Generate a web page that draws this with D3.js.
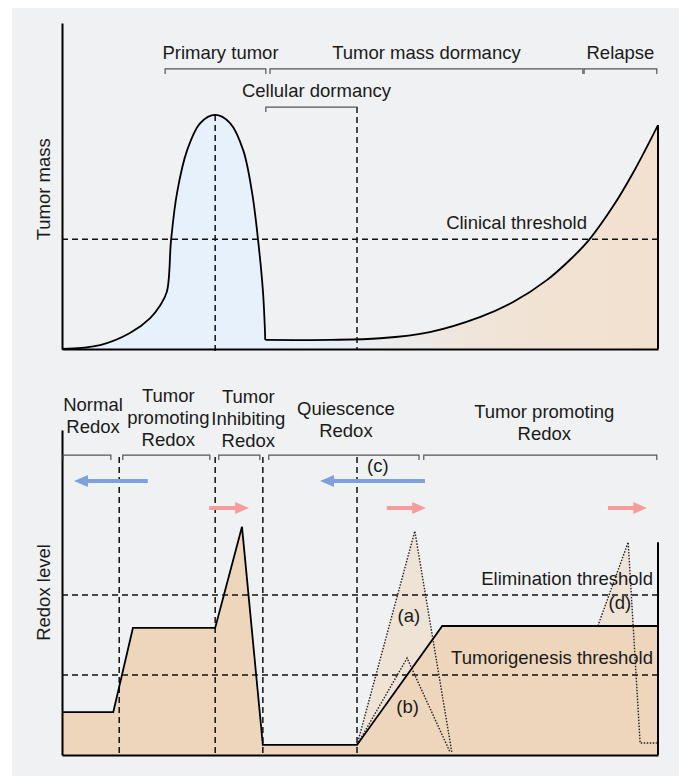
<!DOCTYPE html>
<html>
  <head>
    <meta charset="utf-8">
    <script src="https://d3js.org/d3.v7.min.js"></script>
    <style>
      body { margin: 0; background: #fff; }
      text { font-family: "Liberation Sans", Arial, sans-serif; fill: #1a1a1a; }
    </style>
  </head>
  <body>
    <div id="chart"></div>
    <script>
      // ---- data (x: time 0-100, y: level 0-100) ----
      const primaryTumor = [[0, 0], [6.4, 1.2], [11.4, 4.9], [14.8, 9.5], [16.4, 13.2], [17.6, 17.6],
        [18.3, 33.4], [19.3, 47.9], [21.0, 61.0], [23.2, 69.3], [25.7, 71.8], [28.2, 69.3], [30.4, 61.0],
        [31.9, 47.9], [32.9, 33.4], [33.7, 18.1], [34.0, 8.0], [34.1, 2.8]];
      const dormancyRelapse = [[34.1, 2.8], [45.0, 2.8], [53.4, 3.3], [61.7, 5.2], [70.1, 9.8], [75.7, 14.4],
        [81.4, 21.2], [85.2, 27.3], [88.4, 33.4], [92.4, 43.6], [95.8, 54.0], [100, 68.7]];
      const clinicalThreshold = 33.7;
      const topPhaseNames = ["Primary tumor", "Tumor mass dormancy", "Relapse", "Cellular dormancy"];
      const topPhaseStart = [17.3, 34.9, 87.6, 34.2];
      const topPhaseEnd = [34.2, 87.4, 99.8, 49.5];
      const topPhaseLevel = [85.9, 85.9, 85.9, 74.2];

      const redoxLevel = [[0, 13.2], [8.6, 13.2], [11.9, 39.1], [25.7, 39.1], [30.2, 70.2], [33.7, 3.1],
        [49.5, 3.1], [63.8, 39.7], [100, 39.7]];
      const spikeA = [[49.5, 3.1], [59.2, 68.9], [65.4, 0.9]];
      const spikeB = [[49.5, 3.1], [57.9, 29.8], [65.1, 0.9]];
      const spikeD = [[89.9, 39.7], [95.0, 65.5], [97.0, 3.7], [99.8, 3.7]];
      const eliminationThreshold = 49.2;
      const tumorigenesisThreshold = 24.6;
      const redoxBoundaries = [9.6, 25.7, 33.7, 49.5];
      const redoxPhaseNames = [["Normal", "Redox"], ["Tumor", "promoting", "Redox"], ["Tumor", "Inhibiting", "Redox"],
        ["Quiescence", "Redox"], ["Tumor promoting", "Redox"]];
      const redoxPhaseStart = [0.2, 10.2, 26.3, 34.7, 60.7];
      const redoxPhaseEnd = [8.2, 24.8, 33.2, 59.9, 99.8];
      const decreaseArrows = [[14.4, 2.0], [60.9, 43.3]];
      const increaseArrows = [[24.7, 31.4], [54.5, 61.1], [91.6, 98.2]];
      const spikeLabels = ["(a)", "(b)", "(c)", "(d)"];
      const spikeLabelPos = [[58.2, 41], [58.0, 13], [53.0, 87], [93.6, 45]];

      // ---- layout ----
      const width = 679, height = 776;
      const fontSize = 18.5;
      const svg = d3.select('#chart').append('svg')
        .attr('width', width).attr('height', height);

      svg.append('rect').attr('width', width).attr('height', height).attr('fill', '#ffffff');
      svg.append('rect').attr('x', 12).attr('y', 8).attr('width', width - 12).attr('height', height - 8)
        .attr('fill', '#f0f1f3');

      const x = d3.scaleLinear().domain([0, 100]).range([62, 658]);
      const yTop = d3.scaleLinear().domain([0, 100]).range([349, 23]);
      const yBot = d3.scaleLinear().domain([0, 100]).range([755, 430]);

      const defs = svg.append('defs');
      const grad = defs.append('linearGradient').attr('id', 'relapseFill')
        .attr('gradientUnits', 'userSpaceOnUse')
        .attr('x1', x(34.1)).attr('x2', x(100)).attr('y1', 0).attr('y2', 0);
      [[0, '#e7f1fc'], [0.25, '#eaeef3'], [0.5, '#efe6dc'], [0.75, '#f2e2d1'], [1, '#f2e1cf']].forEach(s => {
        grad.append('stop').attr('offset', s[0]).attr('stop-color', s[1]);
      });

      function arrowMarker(id, color) {
        defs.append('marker')
          .attr('id', id)
          .attr('markerUnits', 'userSpaceOnUse')
          .attr('markerWidth', 14).attr('markerHeight', 12)
          .attr('refX', 2).attr('refY', 6)
          .attr('orient', 'auto')
          .append('path').attr('d', 'M0,0 L14,6 L0,12 Z').attr('fill', color);
      }
      arrowMarker('headBlue', '#7fa0dc');
      arrowMarker('headPink', '#f79c9c');

      const dash = '6,4';

      // ================= top panel =================
      const topPanel = svg.append('g');
      const curve = d3.curveCatmullRom.alpha(0.5);

      const areaTop = d3.area().x(d => x(d[0])).y0(yTop(0)).y1(d => yTop(d[1])).curve(curve);
      const lineTop = d3.line().x(d => x(d[0])).y(d => yTop(d[1])).curve(curve);

      topPanel.append('path').datum(primaryTumor).attr('d', areaTop).attr('fill', '#e7f1fc');
      topPanel.append('path').datum(dormancyRelapse).attr('d', areaTop).attr('fill', 'url(#relapseFill)');

      topPanel.append('line')
        .attr('x1', x(0)).attr('x2', x(100))
        .attr('y1', yTop(clinicalThreshold)).attr('y2', yTop(clinicalThreshold))
        .attr('stroke', '#111').attr('stroke-width', 1.5).attr('stroke-dasharray', dash);

      topPanel.append('line')
        .attr('x1', x(25.7)).attr('x2', x(25.7))
        .attr('y1', yTop(71.8)).attr('y2', yTop(-1.3))
        .attr('stroke', '#111').attr('stroke-width', 1.5).attr('stroke-dasharray', dash);
      topPanel.append('line')
        .attr('x1', x(49.5)).attr('x2', x(49.5))
        .attr('y1', yTop(74.2)).attr('y2', yTop(0))
        .attr('stroke', '#111').attr('stroke-width', 1.5).attr('stroke-dasharray', dash);

      topPanel.append('path').datum(primaryTumor).attr('d', lineTop)
        .attr('fill', 'none').attr('stroke', '#000').attr('stroke-width', 1.8);
      topPanel.append('path').datum(dormancyRelapse).attr('d', lineTop)
        .attr('fill', 'none').attr('stroke', '#000').attr('stroke-width', 1.8);
      topPanel.append('line')
        .attr('x1', x(100)).attr('x2', x(100))
        .attr('y1', yTop(68.7)).attr('y2', yTop(0))
        .attr('stroke', '#000').attr('stroke-width', 2);

      topPanel.append('g').attr('transform', `translate(0,${yTop(0)})`)
        .call(d3.axisBottom(x).tickValues([]).tickSizeOuter(0))
        .select('.domain').attr('stroke', '#000').attr('stroke-width', 2);
      topPanel.append('g').attr('transform', `translate(${x(0)},0)`)
        .call(d3.axisLeft(yTop).tickValues([]).tickSizeOuter(0))
        .select('.domain').attr('stroke', '#000').attr('stroke-width', 2);

      const topLabelShift = [5, 0, 0, 5];
      topPhaseNames.forEach((name, i) => {
        const y0 = yTop(topPhaseLevel[i]);
        topPanel.append('path')
          .attr('d', `M${x(topPhaseStart[i])},${y0 + 5}V${y0}H${x(topPhaseEnd[i])}V${y0 + 5}`)
          .attr('fill', 'none').attr('stroke', '#555').attr('stroke-width', 1.2);
        topPanel.append('text')
          .attr('x', (x(topPhaseStart[i]) + x(topPhaseEnd[i])) / 2 + topLabelShift[i])
          .attr('y', y0 - 10)
          .attr('text-anchor', 'middle').attr('font-size', fontSize)
          .text(name);
      });

      topPanel.append('text')
        .attr('x', 587).attr('y', yTop(clinicalThreshold) - 10)
        .attr('text-anchor', 'end').attr('font-size', fontSize)
        .text('Clinical threshold');

      topPanel.append('text')
        .attr('transform', `translate(50,${yTop(49)}) rotate(-90)`)
        .attr('text-anchor', 'middle').attr('font-size', fontSize)
        .text('Tumor mass');

      // ================= bottom panel =================
      const bot = svg.append('g');
      const areaBot = d3.area().x(d => x(d[0])).y0(yBot(0)).y1(d => yBot(d[1]));
      const lineBot = d3.line().x(d => x(d[0])).y(d => yBot(d[1]));

      // light fills of the spikes, drawn under the main area
      [spikeA, spikeD.slice(0, 3)].forEach(s => {
        bot.append('path').attr('d', lineBot(s) + 'Z').attr('fill', '#eee3d5');
      });

      bot.append('path').datum(redoxLevel).attr('d', areaBot).attr('fill', '#edd6bc');

      [eliminationThreshold, tumorigenesisThreshold].forEach(t => {
        bot.append('line')
          .attr('x1', x(0)).attr('x2', x(100))
          .attr('y1', yBot(t)).attr('y2', yBot(t))
          .attr('stroke', '#111').attr('stroke-width', 1.5).attr('stroke-dasharray', dash);
      });

      redoxBoundaries.forEach(b => {
        bot.append('line')
          .attr('x1', x(b)).attr('x2', x(b))
          .attr('y1', yBot(91.7)).attr('y2', yBot(0))
          .attr('stroke', '#111').attr('stroke-width', 1.5).attr('stroke-dasharray', dash);
      });

      [spikeA, spikeB, spikeD].forEach(s => {
        bot.append('path').datum(s).attr('d', lineBot)
          .attr('fill', 'none').attr('stroke', '#222').attr('stroke-width', 1.4)
          .attr('stroke-dasharray', '1.5,1.5');
      });

      bot.append('path').datum(redoxLevel).attr('d', lineBot)
        .attr('fill', 'none').attr('stroke', '#000').attr('stroke-width', 1.8);
      bot.append('line')
        .attr('x1', x(100)).attr('x2', x(100))
        .attr('y1', yBot(65.5)).attr('y2', yBot(0))
        .attr('stroke', '#000').attr('stroke-width', 2);

      bot.append('g').attr('transform', `translate(0,${yBot(0)})`)
        .call(d3.axisBottom(x).tickValues([]).tickSizeOuter(0))
        .select('.domain').attr('stroke', '#000').attr('stroke-width', 2);
      bot.append('g').attr('transform', `translate(${x(0)},0)`)
        .call(d3.axisLeft(yBot).tickValues([]).tickSizeOuter(0))
        .select('.domain').attr('stroke', '#000').attr('stroke-width', 2);

      // phase brackets and labels
      const bracketLevel = 92.3;
      const redoxLabelShift = [6, 2, 9, 2, 4];
      const redoxLabelBottom = [433, 446, 447, 437, 440];
      redoxPhaseNames.forEach((lines, i) => {
        const y0 = yBot(bracketLevel);
        bot.append('path')
          .attr('d', `M${x(redoxPhaseStart[i])},${y0 + 5}V${y0}H${x(redoxPhaseEnd[i])}V${y0 + 5}`)
          .attr('fill', 'none').attr('stroke', '#555').attr('stroke-width', 1.2);
        const cx = (x(redoxPhaseStart[i]) + x(redoxPhaseEnd[i])) / 2 + redoxLabelShift[i];
        const t = bot.append('text')
          .attr('text-anchor', 'middle').attr('font-size', fontSize);
        lines.forEach((ln, j) => {
          t.append('tspan')
            .attr('x', cx)
            .attr('y', redoxLabelBottom[i] - (lines.length - 1 - j) * 22)
            .text(ln);
        });
      });

      decreaseArrows.forEach(a => {
        bot.append('line')
          .attr('x1', x(a[0])).attr('x2', x(a[1]) + 12)
          .attr('y1', yBot(84.3)).attr('y2', yBot(84.3))
          .attr('stroke', '#7fa0dc').attr('stroke-width', 4)
          .attr('marker-end', 'url(#headBlue)');
      });
      increaseArrows.forEach(a => {
        bot.append('line')
          .attr('x1', x(a[0])).attr('x2', x(a[1]) - 12)
          .attr('y1', yBot(76)).attr('y2', yBot(76))
          .attr('stroke', '#f79c9c').attr('stroke-width', 4)
          .attr('marker-end', 'url(#headPink)');
      });

      spikeLabels.forEach((lab, i) => {
        bot.append('text')
          .attr('x', x(spikeLabelPos[i][0])).attr('y', yBot(spikeLabelPos[i][1]))
          .attr('text-anchor', 'middle').attr('font-size', fontSize)
          .text(lab);
      });

      bot.append('text')
        .attr('x', 653).attr('y', yBot(eliminationThreshold) - 10)
        .attr('text-anchor', 'end').attr('font-size', fontSize)
        .text('Elimination threshold');
      bot.append('text')
        .attr('x', 653).attr('y', yBot(tumorigenesisThreshold) - 11)
        .attr('text-anchor', 'end').attr('font-size', fontSize)
        .text('Tumorigenesis threshold');

      bot.append('text')
        .attr('transform', `translate(50,${yBot(50)}) rotate(-90)`)
        .attr('text-anchor', 'middle').attr('font-size', fontSize)
        .text('Redox level');
    </script>
  </body>
</html>
